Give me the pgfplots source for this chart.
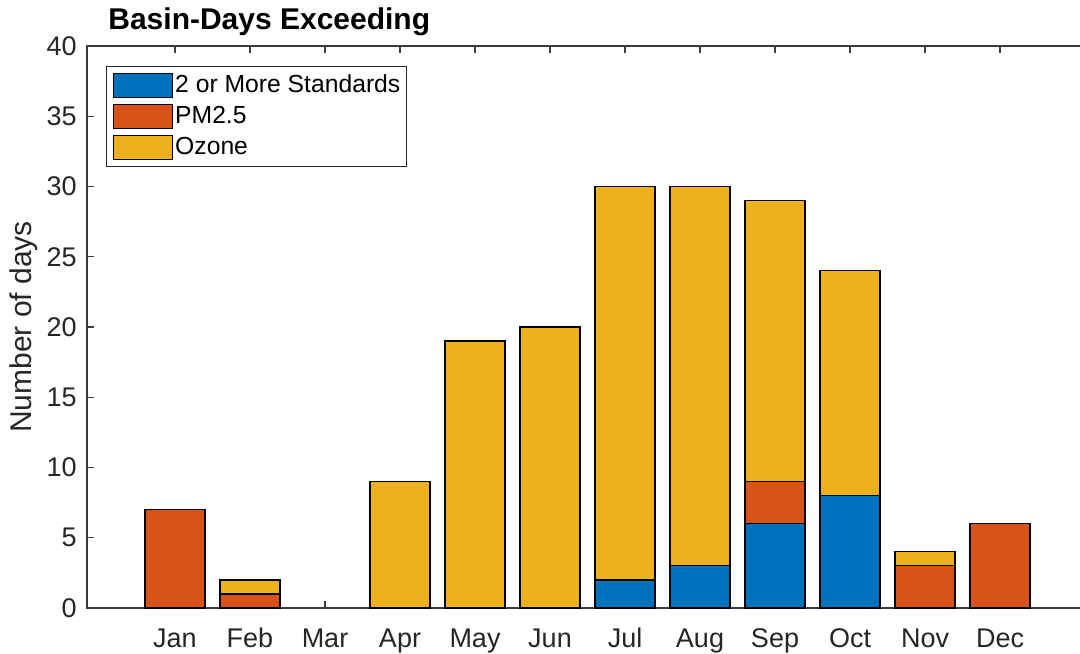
\documentclass[border=0pt]{standalone}
\usepackage{pgfplots}
\pgfplotsset{compat=1.18}
\usepackage{fontspec}
\setmainfont{Liberation Sans}
\definecolor{c1}{HTML}{0072BD}
\definecolor{c2}{HTML}{D95319}
\definecolor{c3}{HTML}{EDB120}
\definecolor{axc}{HTML}{262626}
\definecolor{alc}{HTML}{3C3C3C}
\begin{document}
\begin{tikzpicture}
\pgfplotsset{mylegend/.style={legend image code/.code={\draw[##1,/tikz/.cd,line width=0.6pt,draw=black] (0pt,-6pt) rectangle (29.5pt,6pt);}}}
\begin{axis}[
  scale only axis,
  width=500.5pt, height=281pt,
  at={(0pt,0pt)}, anchor=south west,
  xmin=-0.1733, xmax=13.1733,
  ymin=0, ymax=40,
  ytick={0,5,...,40},
  xtick={1,...,12},
  xticklabels={Jan,Feb,Mar,Apr,May,Jun,Jul,Aug,Sep,Oct,Nov,Dec},
  /pgf/number format/assume math mode=true,
  tick align=inside,
  major tick length=3.5pt,
  axis line style={draw=alc, line width=0.7pt},
  every tick/.style={draw=alc, line width=0.7pt},
  tick label style={font=\fontsize{13.5}{16}\selectfont, text=axc},
  yticklabel style={anchor=east, inner sep=0pt, xshift=-5pt},
  xticklabel style={anchor=base, inner sep=0pt, yshift=-19.5pt},
  ylabel={Number of days},
  ylabel style={at={(axis description cs:-0.05494,0.5)}, anchor=base, font=\fontsize{15}{18}\selectfont, text=axc},
  title={Basin-Days Exceeding},
  every axis title shift=0pt,
  title style={at={(axis description cs:0,1)}, anchor=base west, xshift=10.5pt, yshift=8.25pt, inner sep=0pt, font=\bfseries\fontsize{15}{18}\selectfont},
  ybar stacked, bar width=0.8,
  legend style={at={(axis description cs:0.01898,0.9644)}, anchor=north west, draw=axc, line width=0.6pt, fill=white,
    font=\fontsize{12.35}{14}\selectfont, inner xsep=3pt, inner ysep=3pt, row sep=3pt, column sep=1.2pt,
    nodes={inner sep=0pt}},
  legend cell align=left,
]
\addplot[fill=c1, draw=black, line width=0.6pt, mylegend] coordinates {(1,0) (2,0) (3,0) (4,0) (5,0) (6,0) (7,2) (8,3) (9,6) (10,8) (11,0) (12,0)};
\addplot[fill=c2, draw=black, line width=0.6pt, mylegend] coordinates {(1,7) (2,1) (3,0) (4,0) (5,0) (6,0) (7,0) (8,0) (9,3) (10,0) (11,3) (12,6)};
\addplot[fill=c3, draw=black, line width=0.6pt, mylegend] coordinates {(1,0) (2,1) (3,0) (4,9) (5,19) (6,20) (7,28) (8,27) (9,20) (10,16) (11,1) (12,0)};
\legend{2 or More Standards, PM2.5, Ozone}
\end{axis}
\pgfresetboundingbox
\path[use as bounding box] (-43.5pt,-22.5pt) rectangle (496.5pt,304pt);
\end{tikzpicture}
\end{document}
